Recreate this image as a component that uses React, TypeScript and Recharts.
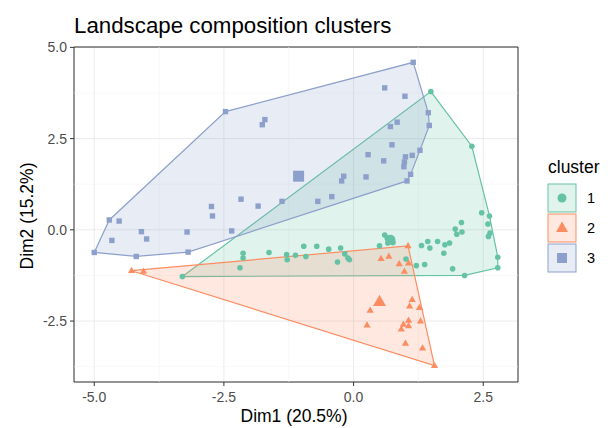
import React from "react";
import {
  ScatterChart,
  Scatter,
  XAxis,
  YAxis,
  CartesianGrid,
  ReferenceLine,
  ReferenceArea,
} from "recharts";

type Pt = { x: number; y: number };

// cluster 1 (green circles)
const cluster1: Pt[] = [
  { x: 1.49, y: 3.79 }, { x: 2.28, y: 2.29 }, { x: 2.47, y: 0.47 }, { x: 2.62, y: 0.38 },
  { x: 2.59, y: 0.16 }, { x: 2.63, y: -0.09 }, { x: 2.6, y: -0.18 }, { x: 2.08, y: 0.2 },
  { x: 1.96, y: 0.02 }, { x: 2.09, y: -0.06 }, { x: 1.99, y: -0.12 }, { x: 1.85, y: -0.36 },
  { x: 1.76, y: -0.41 }, { x: 1.74, y: -0.64 }, { x: 1.62, y: -0.32 }, { x: 1.43, y: -0.32 },
  { x: 1.47, y: -0.5 }, { x: 1.31, y: -0.43 }, { x: 1.37, y: -0.95 }, { x: 1.21, y: -0.98 },
  { x: 1.91, y: -1.07 }, { x: 1.01, y: -0.8 }, { x: 2.14, y: -1.25 }, { x: 2.78, y: -0.75 },
  { x: 2.78, y: -1.04 }, { x: 0.6, y: -0.14 }, { x: 0.65, y: -0.23 }, { x: 0.76, y: -0.35 },
  { x: 0.66, y: -0.36 }, { x: 0.5, y: -0.44 }, { x: -0.25, y: -0.5 }, { x: -0.17, y: -0.66 },
  { x: -0.11, y: -0.77 }, { x: -0.08, y: -0.82 }, { x: -0.31, y: -0.88 }, { x: -0.48, y: -0.53 },
  { x: -0.71, y: -0.45 }, { x: -0.96, y: -0.45 }, { x: -0.92, y: -0.73 }, { x: -1.12, y: -0.7 },
  { x: -1.29, y: -0.68 }, { x: -1.28, y: -0.82 }, { x: -1.63, y: -0.62 }, { x: -2.13, y: -0.64 },
  { x: -2.13, y: -0.77 }, { x: -2.19, y: -1.04 }, { x: -3.3, y: -1.28 },
];

// cluster 2 (orange triangles)
const cluster2: Pt[] = [
  { x: -4.28, y: -1.12 }, { x: -4.05, y: -1.14 }, { x: 1.05, y: -0.44 }, { x: 0.53, y: -0.79 },
  { x: 0.68, y: -0.73 }, { x: 0.88, y: -0.93 }, { x: 1.06, y: -0.91 }, { x: 0.98, y: -1.14 },
  { x: 1.13, y: -1.91 }, { x: 1.08, y: -2.09 }, { x: 1.27, y: -2.13 }, { x: 0.32, y: -2.21 },
  { x: 0.26, y: -2.61 }, { x: 1.06, y: -2.48 }, { x: 0.96, y: -2.59 }, { x: 0.92, y: -2.72 },
  { x: 1.06, y: -2.63 }, { x: 1.29, y: -2.5 }, { x: 1.0, y: -3.11 }, { x: 1.33, y: -3.24 },
  { x: 1.56, y: -3.72 },
];

// cluster 3 (blue squares)
const cluster3: Pt[] = [
  { x: -5.0, y: -0.62 }, { x: -4.71, y: 0.27 }, { x: -4.52, y: 0.24 }, { x: -4.66, y: -0.29 },
  { x: -4.09, y: -0.05 }, { x: -3.99, y: -0.25 }, { x: -4.19, y: -0.73 }, { x: -3.21, y: -0.06 },
  { x: -3.19, y: -0.61 }, { x: -2.74, y: 0.64 }, { x: -2.72, y: 0.38 }, { x: -2.17, y: 0.84 },
  { x: -1.84, y: 0.65 }, { x: -2.35, y: -0.03 }, { x: -1.38, y: 0.78 }, { x: -2.47, y: 3.24 },
  { x: -1.71, y: 3.02 }, { x: -1.76, y: 2.88 }, { x: 1.15, y: 4.59 }, { x: 0.6, y: 3.89 },
  { x: 0.99, y: 3.66 }, { x: 1.44, y: 3.21 }, { x: 1.46, y: 2.86 }, { x: 0.84, y: 2.95 },
  { x: 0.71, y: 2.83 }, { x: 0.74, y: 2.33 }, { x: 0.28, y: 2.06 }, { x: 0.58, y: 1.89 },
  { x: 1.28, y: 2.18 }, { x: 1.0, y: 2.0 }, { x: 1.13, y: 2.04 }, { x: 0.98, y: 1.86 },
  { x: 0.97, y: 1.73 }, { x: 1.1, y: 1.52 }, { x: 1.03, y: 1.34 }, { x: -0.19, y: 1.47 },
  { x: -0.23, y: 1.34 }, { x: 0.24, y: 1.45 }, { x: -0.42, y: 0.91 }, { x: -0.69, y: 0.78 },
];

// cluster centres
const centre1: Pt[] = [{ x: 0.71, y: -0.27 }];
const centre2: Pt[] = [{ x: 0.5, y: -1.97 }];
const centre3: Pt[] = [{ x: -1.06, y: 1.47 }];

const xTicks = [-5, -2.5, 0, 2.5];
const yTicks = [-2.5, 0, 2.5, 5];
const xMinor = [-3.75, -1.25, 1.25];
const yMinor = [-3.75, -1.25, 1.25, 3.75];
const xDomain: [number, number] = [-5.39, 3.17];
const yDomain: [number, number] = [-4.17, 5.01];

const clusterNames = ["1", "2", "3"];
const colors = ["#66C2A5", "#FC8D62", "#8DA0CB"];
const FONT = '"Liberation Sans", Arial, sans-serif';

// convex hull (monotone chain), returned closed so the outline joins up
function hull(points: Pt[]): Pt[] {
  const p = [...points].sort((a, b) => a.x - b.x || a.y - b.y);
  const cross = (o: Pt, a: Pt, b: Pt) => (a.x - o.x) * (b.y - o.y) - (a.y - o.y) * (b.x - o.x);
  const lower: Pt[] = [];
  for (const pt of p) {
    while (lower.length >= 2 && cross(lower[lower.length - 2], lower[lower.length - 1], pt) <= 0) lower.pop();
    lower.push(pt);
  }
  const upper: Pt[] = [];
  for (let i = p.length - 1; i >= 0; i--) {
    const pt = p[i];
    while (upper.length >= 2 && cross(upper[upper.length - 2], upper[upper.length - 1], pt) <= 0) upper.pop();
    upper.push(pt);
  }
  const h = lower.slice(0, -1).concat(upper.slice(0, -1));
  return [...h, h[0]];
}

const circle = (color: string, r: number) => (props: any) => (
  <circle cx={props.cx} cy={props.cy} r={r} fill={color} />
);
const triangle = (color: string, s: number) => (props: any) => {
  const { cx, cy } = props;
  const h = s * 0.866;
  return (
    <polygon
      points={`${cx},${cy - h * 0.62} ${cx - s / 2},${cy + h * 0.38} ${cx + s / 2},${cy + h * 0.38}`}
      fill={color}
    />
  );
};
const square = (color: string, s: number) => (props: any) => (
  <rect x={props.cx - s / 2} y={props.cy - s / 2} width={s} height={s} fill={color} />
);
const none = () => <g />;

const clusters = [cluster1, cluster2, cluster3];
const shapes = [circle, triangle, square];
const pointSize = [2.8, 7.2, 5.4];
const centres = [centre1, centre2, centre3];
const centreSize = [5, 13, 11];

export default function App() {
  return (
    <div
      style={{
        position: "absolute",
        left: 0,
        top: 0,
        width: 610,
        height: 428,
        background: "#fff",
        fontFamily: FONT,
      }}
    >
      <ScatterChart
        width={610}
        height={428}
        margin={{ top: 47, right: 92, bottom: 0, left: 0 }}
      >
        <CartesianGrid stroke="#EBEBEB" strokeWidth={1} />
        {xMinor.map((v) => (
          <ReferenceLine key={"mx" + v} x={v} stroke="#F4F4F4" strokeWidth={0.6} />
        ))}
        {yMinor.map((v) => (
          <ReferenceLine key={"my" + v} y={v} stroke="#F4F4F4" strokeWidth={0.6} />
        ))}
        <XAxis
          type="number"
          dataKey="x"
          domain={xDomain}
          ticks={xTicks}
          allowDataOverflow
          height={46}
          axisLine={false}
          tickSize={4}
          tickMargin={6}
          tickLine={{ stroke: "#333333" }}
          tick={{ fill: "#4D4D4D", fontSize: 14, fontFamily: FONT }}
          tickFormatter={(v: number) => v.toFixed(1)}
        />
        <YAxis
          type="number"
          dataKey="y"
          domain={yDomain}
          ticks={yTicks}
          allowDataOverflow
          width={74}
          axisLine={false}
          tickSize={4}
          tickMargin={3}
          tickLine={{ stroke: "#333333" }}
          tick={{ fill: "#4D4D4D", fontSize: 14, fontFamily: FONT }}
          tickFormatter={(v: number) => v.toFixed(1)}
        />
        {clusters.map((c, i) => (
          <Scatter
            key={"hull" + i}
            data={hull(c)}
            shape={none}
            line={{ stroke: colors[i], strokeWidth: 1.2, fill: colors[i], fillOpacity: 0.2 }}
            isAnimationActive={false}
          />
        ))}
        {clusters.map((c, i) => (
          <Scatter
            key={"pts" + i}
            name={clusterNames[i]}
            data={c}
            shape={shapes[i](colors[i], pointSize[i])}
            isAnimationActive={false}
          />
        ))}
        {centres.map((c, i) => (
          <Scatter
            key={"cen" + i}
            data={c}
            shape={shapes[i](colors[i], centreSize[i])}
            isAnimationActive={false}
          />
        ))}
        <ReferenceArea
          x1={xDomain[0]}
          x2={xDomain[1]}
          y1={yDomain[0]}
          y2={yDomain[1]}
          fill="none"
          stroke="#333333"
          strokeWidth={1}
        />
      </ScatterChart>
      <svg
        width={610}
        height={428}
        style={{ position: "absolute", left: 0, top: 0, pointerEvents: "none" }}
        fontFamily={FONT}
      >
        <text x={74} y={33} fontSize={22.3} fill="#000">
          Landscape composition clusters
        </text>
        <text x={294} y={422} fontSize={17.5} fill="#000" textAnchor="middle">
          Dim1 (20.5%)
        </text>
        <text
          x={0}
          y={0}
          fontSize={17.5}
          fill="#000"
          textAnchor="middle"
          transform="translate(33,216) rotate(-90)"
        >
          Dim2 (15.2%)
        </text>
        <text x={548} y={173} fontSize={17.5} fill="#000">
          cluster
        </text>
        {clusterNames.map((name, i) => {
          const top = 184 + i * 30;
          const cx = 562;
          const cy = top + 14;
          return (
            <g key={name}>
              <rect
                x={548}
                y={top}
                width={28}
                height={28}
                fill={colors[i]}
                fillOpacity={0.2}
                stroke={colors[i]}
                strokeWidth={1}
              />
              {shapes[i](colors[i], [4.5, 12, 10][i])({ cx, cy })}
              <text x={587} y={cy + 5} fontSize={14.5} fill="#000">
                {name}
              </text>
            </g>
          );
        })}
      </svg>
    </div>
  );
}
